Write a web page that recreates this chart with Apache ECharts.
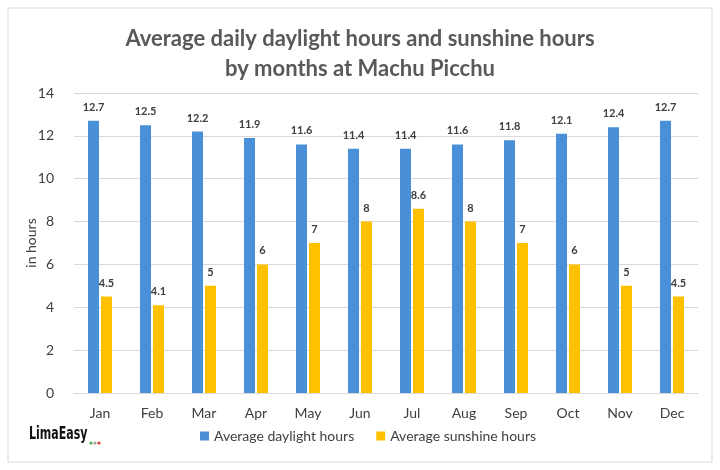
<!DOCTYPE html>
<html>
<head>
<meta charset="utf-8">
<script src="https://cdn.jsdelivr.net/npm/echarts@6/dist/echarts.min.js"></script>
<style>
  html, body { margin: 0; padding: 0; background: #fff; }
  #chart { width: 720px; height: 470px; }
</style>
</head>
<body>
<div id="chart"></div>
<script>
const months = ['Jan', 'Feb', 'Mar', 'Apr', 'May', 'Jun', 'Jul', 'Aug', 'Sep', 'Oct', 'Nov', 'Dec']
const daylight = [12.7, 12.5, 12.2, 11.9, 11.6, 11.4, 11.4, 11.6, 11.8, 12.1, 12.4, 12.7]
const sunshine = [4.5, 4.1, 5, 6, 7, 8, 8.6, 8, 7, 6, 5, 4.5]

const font = 'Lato, "Open Sans", sans-serif'
const chart = echarts.init(document.getElementById('chart'))

const labelStyle = {
  show: true,
  position: 'top',
  distance: 8,
  color: '#404040',
  fontSize: 11,
  fontWeight: 'bold',
  fontFamily: font
}

chart.setOption({
  animation: false,
  title: {
    text: 'Average daily daylight hours and sunshine hours\nby months at Machu Picchu',
    left: 'center',
    top: 19,
    textStyle: {
      color: '#595959',
      fontSize: 22,
      fontWeight: 'bold',
      fontFamily: font,
      lineHeight: 30
    }
  },
  legend: {
    bottom: 22,
    left: 195,
    itemWidth: 9,
    itemHeight: 9,
    itemGap: 22,
    icon: 'rect',
    textStyle: { color: '#404040', fontSize: 14, fontFamily: font }
  },
  grid: { left: 74, right: 22, top: 93, bottom: 77 },
  xAxis: {
    type: 'category',
    data: months,
    axisLine: { lineStyle: { color: '#d9d9d9' } },
    axisTick: { show: false },
    axisLabel: { color: '#404040', fontSize: 14, fontFamily: font, margin: 13 }
  },
  yAxis: {
    type: 'value',
    min: 0,
    max: 14,
    interval: 2,
    name: 'in hours',
    nameLocation: 'middle',
    nameRotate: 90,
    nameGap: 36,
    nameMoveOverlap: false,
    nameTextStyle: { color: '#404040', fontSize: 14, fontFamily: font },
    axisLabel: { color: '#404040', fontSize: 14, fontFamily: font, margin: 20 },
    splitLine: { lineStyle: { color: '#d9d9d9' } }
  },
  series: [
    {
      name: 'Average daylight hours',
      type: 'bar',
      data: daylight,
      barWidth: 11,
      barGap: '18%',
      itemStyle: { color: '#4a90d9' },
      label: labelStyle
    },
    {
      name: 'Average sunshine hours',
      type: 'bar',
      data: sunshine,
      barWidth: 11,
      itemStyle: { color: '#ffc000' },
      label: labelStyle
    }
  ],
  graphic: [
    {
      type: 'rect',
      shape: { x: 8, y: 8, width: 704, height: 454 },
      style: { fill: 'none', stroke: '#d9d9d9', lineWidth: 1 },
      silent: true
    },
    {
      type: 'text',
      x: 29,
      y: 426,
      scaleX: 0.72,
      style: {
        text: 'LimaEasy',
        fill: '#111',
        font: 'bold 17px "DejaVu Sans Condensed", sans-serif'
      }
    },
    { type: 'circle', shape: { cx: 91, cy: 443, r: 1.6 }, style: { fill: '#4caf50' } },
    { type: 'circle', shape: { cx: 95, cy: 443, r: 1.6 }, style: { fill: '#9e9e9e' } },
    { type: 'circle', shape: { cx: 99, cy: 443, r: 1.6 }, style: { fill: '#e53935' } }
  ]
})
</script>
</body>
</html>
